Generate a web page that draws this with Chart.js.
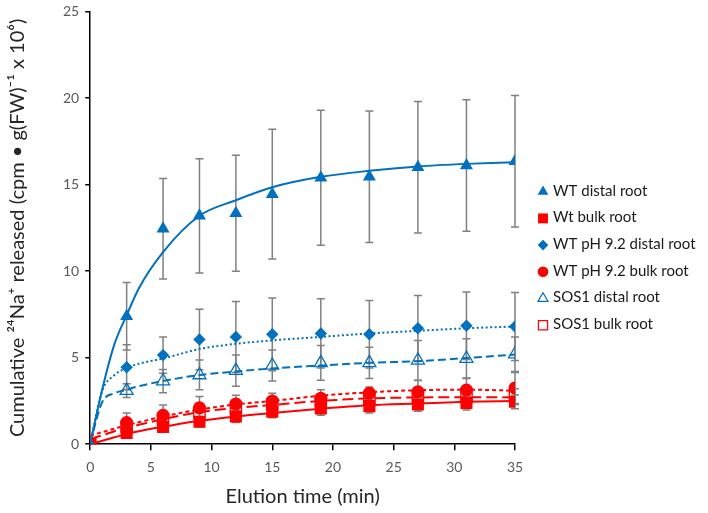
<!DOCTYPE html>
<html><head><meta charset="utf-8">
<script src="https://cdn.jsdelivr.net/npm/chart.js@4/dist/chart.umd.min.js"></script>
<style>html,body{margin:0;padding:0;background:#fff}</style>
</head><body>
<canvas id="c" width="708" height="513"></canvas>
<script>
// ---- data ----
const timeMin = [0, 3, 6, 9, 12, 15, 19, 23, 27, 31, 35];

const wtDistal      = [0, 7.4, 12.45, 13.2, 13.35, 14.45, 15.4, 15.45, 16.0, 16.1, 16.35];
const wtDistalErr   = [0, 1.95, 2.9, 3.3, 3.35, 3.75, 3.9, 3.8, 3.8, 3.8, 3.8];
const wtBulk        = [0, 0.65, 1.0, 1.3, 1.6, 1.88, 2.07, 2.2, 2.3, 2.38, 2.45];
const wtBulkErr     = [0, 0.25, 0.3, 0.3, 0.35, 0.35, 0.4, 0.4, 0.4, 0.4, 0.4];
const phDistal      = [0, 4.45, 5.15, 6.05, 6.2, 6.35, 6.4, 6.35, 6.7, 6.85, 6.8];
const phDistalErr   = [0, 1.3, 1.05, 1.75, 2.05, 2.1, 2.0, 1.95, 1.9, 1.95, 1.97];
const phBulk        = [0, 1.25, 1.67, 2.1, 2.33, 2.5, 2.65, 2.95, 3.03, 3.13, 3.25];
const phBulkErr     = [0, 0.55, 0.6, 0.65, 0.5, 0.45, 0.5, 0.35, 0.65, 0.7, 0.9];
const sosDistal     = [0, 3.1, 3.65, 4.0, 4.25, 4.55, 4.7, 4.7, 4.85, 4.95, 5.2];
const sosDistalErr  = [0, 0.4, 0.67, 0.86, 0.9, 0.9, 1.0, 0.9, 1.15, 1.15, 1.0];
const sosBulk       = [0, 1.0, 1.45, 1.85, 2.1, 2.3, 2.5, 2.6, 2.7, 2.72, 2.75];
const sosBulkErr    = [0, 0.3, 0.35, 0.4, 0.4, 0.4, 0.4, 0.45, 0.45, 0.45, 0.45];

// fitted trend curves
const trendTime      = [0, 1, 2, 3, 4, 6, 9, 12, 15, 19, 23, 27, 31, 35];
const trendWtDistal  = [0, 3.2, 5.8, 7.45, 9.0, 11.1, 13.2, 14.1, 14.85, 15.45, 15.8, 16.05, 16.2, 16.3];
const trendPhDistal  = [0.1, 3.1, 4.0, 4.4, 4.65, 4.95, 5.5, 5.8, 6.0, 6.2, 6.4, 6.55, 6.7, 6.8];
const trendSosDistal = [0.1, 2.45, 2.95, 3.15, 3.35, 3.65, 4.0, 4.2, 4.38, 4.55, 4.7, 4.8, 4.98, 5.18];
const trendWtBulk    = [0, 0.2, 0.4, 0.6, 0.75, 1.0, 1.35, 1.6, 1.8, 2.05, 2.25, 2.35, 2.45, 2.5];
const trendPhBulk    = [0.5, 0.7, 0.9, 1.1, 1.27, 1.6, 2.0, 2.3, 2.5, 2.8, 3.0, 3.12, 3.15, 3.1];
const trendSosBulk   = [0.3, 0.52, 0.75, 0.95, 1.12, 1.45, 1.85, 2.1, 2.27, 2.5, 2.65, 2.7, 2.72, 2.7];

const xTicks = [0, 5, 10, 15, 20, 25, 30, 35];
const yTicks = [0, 5, 10, 15, 20, 25];

const seriesNames = ['WT distal root', 'Wt bulk root', 'WT pH 9.2 distal root', 'WT pH 9.2 bulk root', 'SOS1 distal root', 'SOS1 bulk root'];

// ---- build chart ----
const BLUE = '#0070C0', RED = '#FF0000';
const FONT = "Lato, 'Noto Sans', 'DejaVu Sans', sans-serif";
const pts = (xs, ys) => xs.map((x, i) => ({x: x, y: ys[i]}));

function markerSet(label, ys, errs, style, color, filled, radius, legendRadius) {
  return {
    label: label, data: pts(timeMin, ys), errors: errs, showLine: false,
    pointStyle: style, pointRadius: radius, pointHoverRadius: radius,
    legendRadius: legendRadius, filled: filled,
    backgroundColor: filled ? color : 'rgba(255,255,255,0)',
    borderColor: color, pointBorderWidth: filled ? 0 : 1.3
  };
}
function trendSet(ys, color, dash) {
  return {
    label: '_trend', data: pts(trendTime, ys), showLine: true, pointRadius: 0,
    borderColor: color, borderWidth: 2, borderDash: dash, cubicInterpolationMode: 'monotone',
    fill: false
  };
}

const datasets = [
  markerSet(seriesNames[0], wtDistal, wtDistalErr, 'triangle', BLUE, true, 7.5, 6.2),
  markerSet(seriesNames[1], wtBulk, wtBulkErr, 'rect', RED, true, 8.5, 7),
  markerSet(seriesNames[2], phDistal, phDistalErr, 'rectRot', BLUE, true, 6.2, 5.3),
  markerSet(seriesNames[3], phBulk, phBulkErr, 'circle', RED, true, 6.5, 5.3),
  markerSet(seriesNames[4], sosDistal, sosDistalErr, 'triangle', BLUE, false, 7.5, 5.8),
  markerSet(seriesNames[5], sosBulk, sosBulkErr, 'rect', RED, false, 8, 6.5),
  trendSet(trendWtDistal, BLUE, []),
  trendSet(trendWtBulk, RED, []),
  trendSet(trendPhDistal, BLUE, [2, 2.5]),
  trendSet(trendPhBulk, RED, [4, 3]),
  trendSet(trendSosDistal, BLUE, [8, 4]),
  trendSet(trendSosBulk, RED, [11, 5])
];

const errorBars = {
  id: 'errorBars',
  beforeDatasetsDraw(chart) {
    const ctx = chart.ctx, xs = chart.scales.x, ys = chart.scales.y;
    ctx.save();
    ctx.strokeStyle = '#808080';
    ctx.lineWidth = 1.5;
    chart.data.datasets.forEach(ds => {
      if (!ds.errors) return;
      ds.data.forEach((p, j) => {
        const e = ds.errors[j];
        if (!e) return;
        const x = xs.getPixelForValue(p.x);
        const y1 = ys.getPixelForValue(p.y + e);
        const y2 = ys.getPixelForValue(p.y - e);
        ctx.beginPath();
        ctx.moveTo(x, y1); ctx.lineTo(x, y2);
        ctx.moveTo(x - 4, y1); ctx.lineTo(x + 4, y1);
        ctx.moveTo(x - 4, y2); ctx.lineTo(x + 4, y2);
        ctx.stroke();
      });
    });
    ctx.restore();
  }
};

// legend drawn to the right of the plot, from the dataset labels and styles
const sideLegend = {
  id: 'sideLegend',
  afterDraw(chart) {
    const ctx = chart.ctx;
    const items = chart.data.datasets.filter(d => d.label !== '_trend');
    const rowH = 26.7;
    const y0 = 190.7;
    const mx = chart.chartArea.right + 28;
    ctx.save();
    ctx.font = '15px ' + FONT;
    ctx.textBaseline = 'middle';
    ctx.textAlign = 'left';
    items.forEach((d, i) => {
      const y = y0 + i * rowH;
      ctx.fillStyle = d.backgroundColor;
      ctx.strokeStyle = d.borderColor;
      ctx.lineWidth = d.filled ? 0 : 1.2;
      Chart.helpers.drawPoint(ctx, {pointStyle: d.pointStyle, rotation: 0, radius: d.legendRadius, borderWidth: d.filled ? 0 : 1.2}, mx, y + 1);
      ctx.fillStyle = '#1a1a1a';
      ctx.fillText(d.label, mx + 10, y);
    });
    ctx.restore();
  }
};

new Chart(document.getElementById('c'), {
  type: 'scatter',
  data: { datasets: datasets },
  plugins: [errorBars, sideLegend],
  options: {
    responsive: false, animation: false,
    layout: { padding: { top: 0, right: 193, left: 6, bottom: 0 } },
    plugins: {
      tooltip: { enabled: false },
      legend: { display: false }
    },
    scales: {
      x: {
        type: 'linear', min: 0, max: 35,
        afterBuildTicks: s => { s.ticks = xTicks.map(v => ({value: v})); },
        ticks: { color: '#595959', font: { family: FONT, size: 14 }, padding: 9 },
        grid: { display: true, drawOnChartArea: false, drawTicks: true, tickLength: 6, color: '#000', lineWidth: 1.5 },
        border: { color: '#000', width: 1.5 },
        title: { display: true, text: 'Elution time (min)', color: '#262626', font: { family: FONT, size: 20 }, padding: { top: 0 } }
      },
      y: {
        type: 'linear', min: 0, max: 25,
        afterBuildTicks: s => { s.ticks = yTicks.map(v => ({value: v})); },
        ticks: { color: '#595959', font: { family: FONT, size: 14, lineHeight: 0.8 }, padding: 6 },
        grid: { display: true, drawOnChartArea: false, drawTicks: true, tickLength: 5, color: '#000', lineWidth: 1.5 },
        border: { color: '#000', width: 1.5 },
        title: { display: true, text: 'Cumulative \u00B2\u2074Na\u207A released (cpm \u2022 g(FW)\u207B\u00B9 x 10\u2076)', color: '#262626', font: { family: FONT, size: 20 }, padding: { top: 0, bottom: 27 } }
      }
    }
  }
});
</script>
</body></html>
